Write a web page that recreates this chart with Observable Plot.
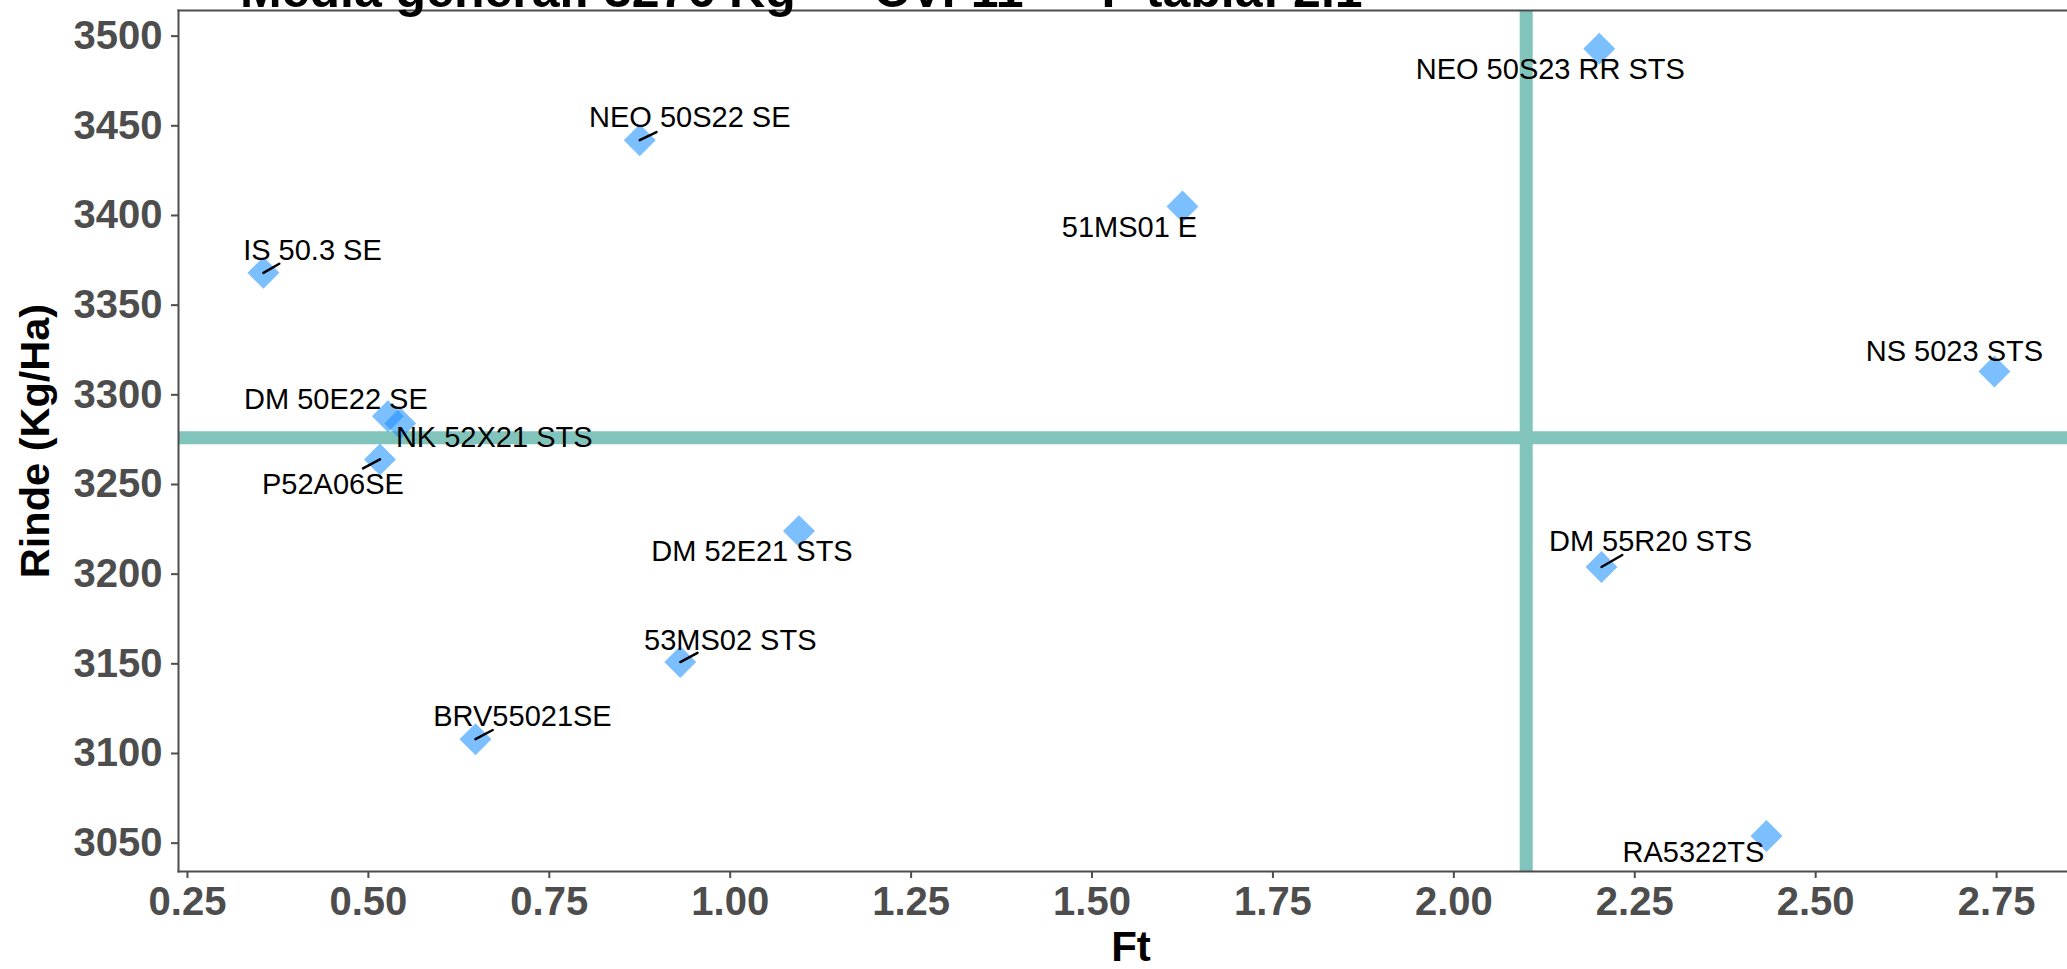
<!DOCTYPE html>
<html>
<head>
<meta charset="utf-8">
<script src="https://cdn.jsdelivr.net/npm/d3@7"></script>
<script src="https://cdn.jsdelivr.net/npm/@observablehq/plot@0.6"></script>
<style>
  html, body { margin: 0; padding: 0; background: #fff; overflow: hidden; }
  #wrap { position: relative; width: 2067px; height: 969px; }
  #title { position: absolute; left: 240px; top: -35px; font: bold 50px/50px "Liberation Sans", Arial, sans-serif; color: #000; white-space: pre; z-index: 2; }
  #chart { position: absolute; left: 0; top: 0; }
</style>
</head>
<body>
<div id="wrap">
  <div id="title"></div>
  <div id="chart"></div>
</div>
<script>
// ---- data ----
const genotipos = ["NEO 50S23 RR STS", "NEO 50S22 SE", "51MS01 E", "IS 50.3 SE", "NS 5023 STS", "DM 50E22 SE", "NK 52X21 STS", "P52A06SE", "DM 52E21 STS", "DM 55R20 STS", "53MS02 STS", "BRV55021SE", "RA5322TS"];
const ft = [2.201, 0.875, 1.625, 0.355, 2.747, 0.527, 0.544, 0.516, 1.095, 2.204, 0.931, 0.648, 2.432];
const rinde = [3493, 3442, 3405, 3368, 3313, 3288, 3284, 3264, 3224, 3204, 3151, 3108, 3054];
const mediaGeneral = 3276;
const cv = 11;
const fTabla = 2.1;
const xTicks = [0.25, 0.50, 0.75, 1.00, 1.25, 1.50, 1.75, 2.00, 2.25, 2.50, 2.75];
const yTicks = [3050, 3100, 3150, 3200, 3250, 3300, 3350, 3400, 3450, 3500];

// ---- label placement (repel-like offsets, px) ----
const labelNudge = [[-49, 21], [50, -22], [-53, 21], [49, -22], [-40, -20], [-52, -17], [94, 14], [-47, 25], [-47, 21], [49, -25], [50, -21], [47, -22], [-73, 17]];
const segmentIdx = [1, 3, 7, 9, 10, 11];
const segmentLen = [18.6, 18.3, 19.2, 24, 19.5, 19.5];
const segmentAngle = [64, 60, 242, 60, 62, 62];

document.getElementById("title").textContent =
  `Media general: ${mediaGeneral} Kg — CV: ${cv} — F tabla: ${fTabla}`;

const idx = genotipos.map((_, i) => i);
const labelFont = "Liberation Sans, Arial, sans-serif";
const teal = "#80C4BC";
const axisGray = "#4D4D4D";

const segShape = { draw(context, l) { context.moveTo(0, 0); context.lineTo(0, -l); } };

const labelMarks = idx.map(i => Plot.text([i], {
  x: j => ft[j], y: j => rinde[j], text: j => genotipos[j],
  dx: labelNudge[i][0], dy: labelNudge[i][1],
  fontSize: 29, fontFamily: labelFont, fill: "#000", textAnchor: "middle", lineAnchor: "middle"
}));

const chart = Plot.plot({
  width: 2067,
  height: 969,
  marginLeft: 178,
  marginRight: 0,
  marginTop: 10,
  marginBottom: 98,
  style: { background: "#fff", overflow: "visible" },
  x: { domain: [0.2376, 2.848] },
  y: { domain: [3034.2, 3514.3] },
  length: { type: "identity" },
  marks: [
    Plot.ruleY([mediaGeneral], { stroke: teal, strokeWidth: 13 }),
    Plot.ruleX([fTabla], { stroke: teal, strokeWidth: 13 }),
    Plot.dot(idx, { x: i => ft[i], y: i => rinde[i], symbol: "diamond2", r: 14.4, fill: "#1E90FF", fillOpacity: 0.58, stroke: null }),
    Plot.vector(segmentIdx.map((d, k) => k), {
      x: k => ft[segmentIdx[k]], y: k => rinde[segmentIdx[k]],
      length: k => segmentLen[k], rotate: k => segmentAngle[k],
      anchor: "start", shape: segShape, stroke: "#000", strokeWidth: 2.5
    }),
    ...labelMarks,
    Plot.frame({ anchor: "top", stroke: axisGray, strokeWidth: 2 }),
    Plot.frame({ anchor: "left", stroke: axisGray, strokeWidth: 2 }),
    Plot.frame({ anchor: "bottom", stroke: axisGray, strokeWidth: 2 }),
    Plot.axisX({ ticks: xTicks, tickFormat: d3.format(".2f"), tickSize: 7, tickPadding: 8, fontSize: 40, fontWeight: "bold", fontFamily: labelFont, color: axisGray, strokeWidth: 2, label: null }),
    Plot.axisY({ ticks: yTicks, tickFormat: d3.format("d"), tickSize: 7, tickPadding: 9, fontSize: 40, fontWeight: "bold", fontFamily: labelFont, color: axisGray, strokeWidth: 2, label: null }),
    Plot.text(["Rinde (Kg/Ha)"], { frameAnchor: "left", dx: -143, rotate: -90, fontSize: 41.5, fontWeight: "bold", fontFamily: labelFont, fill: "#000", textAnchor: "middle", lineAnchor: "middle" }),
    Plot.text(["Ft"], { frameAnchor: "bottom", dx: 8, dy: 76, fontSize: 42, fontWeight: "bold", fontFamily: labelFont, fill: "#000", textAnchor: "middle", lineAnchor: "middle" })
  ]
});
document.getElementById("chart").appendChild(chart);
</script>
</body>
</html>
